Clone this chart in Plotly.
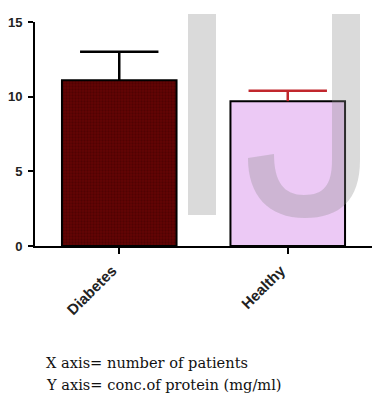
import plotly.graph_objects as go

categories = ["Diabetes", "Healthy"]
means = [11.1, 9.7]
errors_up = [1.9, 0.7]
fill_colors = ["#5c0303", "#ecc9f5"]
err_colors = ["#000000", "#c1272d"]
y_ticks = [0, 5, 10, 15]

W, H = 372, 394
L, R, T, B = 35, 0, 22, 148
PW, PH = W - L - R, H - T - B


def px(x, y):
    return (x - L) / PW, (T + PH - y) / PH


fig = go.Figure()
for i, cat in enumerate(categories):
    marker = dict(color=fill_colors[i], line=dict(color="black", width=2))
    if i == 0:
        marker["pattern"] = dict(shape=".", bgcolor="#640404", fgcolor="#3c0000",
                                 size=3, solidity=0.45, fillmode="overlay")
    fig.add_trace(go.Bar(
        x=[cat], y=[means[i]], width=0.68, marker=marker,
        error_y=dict(type="data", symmetric=False, array=[errors_up[i]],
                     arrayminus=[0], color=err_colors[i], thickness=2.5, width=0),
        showlegend=False,
    ))
# error-bar caps (top only)
for i, cat in enumerate(categories):
    fig.add_trace(go.Scatter(
        x=[cat], y=[means[i] + errors_up[i]], mode="markers",
        marker=dict(symbol="line-ew", size=56, color=err_colors[i],
                    line=dict(color=err_colors[i], width=2.5)),
        showlegend=False, hoverinfo="skip",
    ))

# watermark "IJ"
def path_from(points_cmds):
    out = []
    for cmd, pts in points_cmds:
        coords = []
        for (x, y) in pts:
            a, b = px(x, y)
            coords.append(f"{a:.4f},{b:.4f}")
        out.append(cmd + " " + " ".join(coords))
    return " ".join(out) + " Z"

wm = "rgba(140,140,140,0.32)"
x0, y0 = px(188, 14)
x1, y1 = px(216, 215)
fig.add_shape(type="rect", xref="paper", yref="paper", x0=x0, y0=y1, x1=x1, y1=y0,
              fillcolor=wm, line=dict(width=0), layer="above")
jpath = path_from([
    ("M", [(332, 14)]),
    ("L", [(360, 14)]),
    ("L", [(360, 160)]),
    ("C", [(360, 200), (340, 218), (305, 218)]),
    ("C", [(268, 218), (248, 195), (248, 158)]),
    ("L", [(274, 154)]),
    ("C", [(274, 182), (284, 195), (304, 195)]),
    ("C", [(324, 195), (332, 185), (332, 160)]),
])
fig.add_shape(type="path", xref="paper", yref="paper", path=jpath,
              fillcolor=wm, line=dict(width=0), layer="above")

tx, ty1 = px(44, 362)
_, ty2 = px(44, 384)
fig.add_annotation(text="X axis= number of patients", xref="paper", yref="paper",
                   x=tx, y=ty1, xanchor="left", yanchor="middle", showarrow=False,
                   font=dict(family="DejaVu Serif", size=14.6, color="#111111"))
fig.add_annotation(text="Y axis= conc.of protein (mg/ml)", xref="paper", yref="paper",
                   x=tx, y=ty2, xanchor="left", yanchor="middle", showarrow=False,
                   font=dict(family="DejaVu Serif", size=14.6, color="#111111"))

fig.update_layout(
    width=W, height=H,
    margin=dict(l=L, r=R, t=T, b=B, pad=0),
    plot_bgcolor="white", paper_bgcolor="white",
    barmode="overlay",
    xaxis=dict(range=[-0.5, 1.5], showline=True, linecolor="black", linewidth=2,
               ticks="outside", ticklen=6, tickwidth=2, tickcolor="black",
               tickangle=-45, showgrid=False, zeroline=False,
               ticklabelshift=-7, ticklabelstandoff=2,
               tickfont=dict(family="Liberation Sans", size=15, color="#222222", weight="bold")),
    yaxis=dict(range=[0, 15], tickvals=y_ticks, showline=True, linecolor="black", linewidth=2,
               ticks="outside", ticklen=5, tickwidth=2, tickcolor="black",
               showgrid=False, zeroline=False, ticklabelstandoff=3,
               tickfont=dict(family="Liberation Sans", size=13, color="#222222", weight="bold")),
)

fig.write_html("out.html", config={"displayModeBar": False},
               post_script="document.body.style.margin='0';document.body.style.overflow='hidden';")
